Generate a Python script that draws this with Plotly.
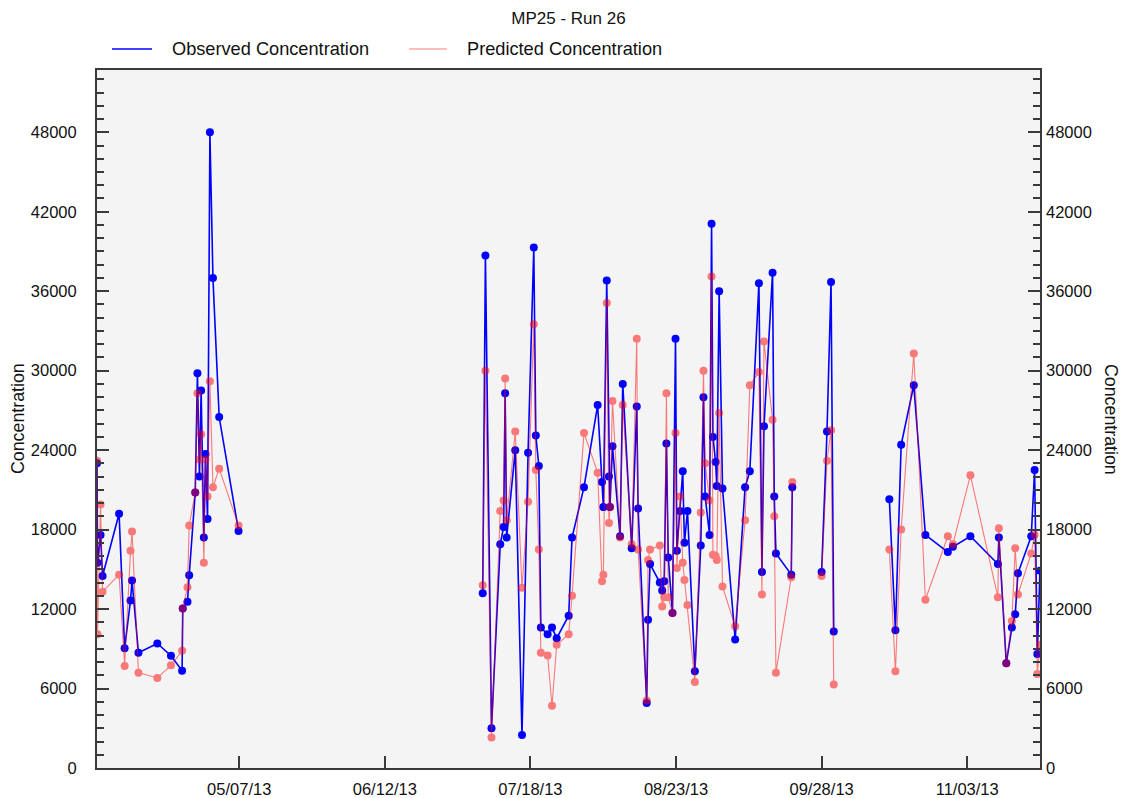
import plotly.graph_objects as go

chart_title = "MP25 - Run 26"
series_names = ["Observed Concentration", "Predicted Concentration"]
series_colors = ["#0000ff", "#ff0000"]
axis_title = "Concentration"

# Sample times; a None value marks a break in sampling (no line drawn across it)
sample_times = [
    "2013-04-01 20:00", "2013-04-01 23:00", "2013-04-02 17:00", "2013-04-03 05:00",
    "2013-04-07 07:00", "2013-04-08 16:00", "2013-04-10 03:00", "2013-04-10 12:00",
    "2013-04-12 02:00", "2013-04-16 18:00", "2013-04-20 03:00", "2013-04-22 21:00",
    "2013-04-23 01:00", "2013-04-24 05:00", "2013-04-24 15:00", "2013-04-26 03:00",
    "2013-04-26 16:00", "2013-04-27 04:00", "2013-04-27 14:00", "2013-04-28 06:00",
    "2013-04-28 16:00", "2013-04-29 04:00", "2013-04-29 18:00", "2013-04-30 12:00",
    "2013-05-02 01:00", "2013-05-06 20:00",
    "2013-06-05 00:00",
    "2013-07-06 05:00", "2013-07-06 21:00", "2013-07-08 09:00", "2013-07-10 13:00",
    "2013-07-11 09:00", "2013-07-11 18:00", "2013-07-12 03:00", "2013-07-14 06:00",
    "2013-07-15 22:00", "2013-07-17 10:00", "2013-07-18 20:00", "2013-07-19 08:00",
    "2013-07-20 02:00", "2013-07-20 14:00", "2013-07-22 06:00", "2013-07-23 08:00",
    "2013-07-24 12:00", "2013-07-27 11:00", "2013-07-28 07:00", "2013-07-31 06:00",
    "2013-08-03 15:00", "2013-08-04 17:00", "2013-08-05 01:00", "2013-08-05 21:00",
    "2013-08-06 10:00", "2013-08-06 16:00", "2013-08-07 07:00", "2013-08-09 04:00",
    "2013-08-09 20:00", "2013-08-12 01:00", "2013-08-13 07:00", "2013-08-13 15:00",
    "2013-08-15 18:00", "2013-08-16 02:00", "2013-08-16 14:00", "2013-08-19 00:00",
    "2013-08-19 14:00", "2013-08-20 02:00", "2013-08-20 15:00", "2013-08-21 02:00",
    "2013-08-22 03:00", "2013-08-22 21:00", "2013-08-23 05:00", "2013-08-24 00:00",
    "2013-08-24 16:00", "2013-08-25 02:00", "2013-08-25 20:00", "2013-08-27 16:00",
    "2013-08-29 03:00", "2013-08-29 19:00", "2013-08-30 05:00", "2013-08-31 07:00",
    "2013-08-31 19:00", "2013-09-01 03:00", "2013-09-01 19:00", "2013-09-02 02:00",
    "2013-09-02 16:00", "2013-09-03 12:00", "2013-09-06 15:00", "2013-09-09 02:00",
    "2013-09-10 06:00", "2013-09-12 12:00", "2013-09-13 06:00", "2013-09-13 18:00",
    "2013-09-15 21:00", "2013-09-16 07:00", "2013-09-16 17:00", "2013-09-20 12:00",
    "2013-09-20 18:00",
    "2013-09-24 00:00",
    "2013-09-28 00:00", "2013-09-29 08:00", "2013-09-30 08:00", "2013-10-01 00:00",
    "2013-10-08 00:00",
    "2013-10-14 18:00", "2013-10-16 06:00", "2013-10-17 16:00", "2013-10-20 19:00",
    "2013-10-23 16:00", "2013-10-29 05:00", "2013-10-30 11:00", "2013-11-03 19:00",
    "2013-11-10 14:00", "2013-11-10 20:00", "2013-11-12 16:00", "2013-11-14 01:00",
    "2013-11-14 21:00", "2013-11-15 13:00", "2013-11-18 20:00", "2013-11-19 16:00",
    "2013-11-20 08:00", "2013-11-21 00:00",
]

observed = [
    23000, 15500, 17600, 14500, 19200, 9050, 12650, 14150,
    8700, 9400, 8480, 7350, 12050, 12550, 14550, 20800,
    29800, 22000, 28500, 17400, 23700, 18800, 48000, 37000,
    26500, 17900,
    None,
    13200, 38700, 3000, 16900, 18200, 28300, 17400, 24000,
    2500, 23800, 39300, 25100, 22800, 10600, 10100, 10600,
    9800, 11500, 17400, 21200, 27400, 21600, 19700, 36800,
    22000, 19700, 24300, 17500, 29000, 16600, 27300, 19600,
    4900, 11200, 15400, 14000, 13400, 14100, 24500, 15900,
    11700, 32400, 16400, 19400, 22400, 17000, 19400, 7300,
    16800, 28000, 20500, 17600, 41100, 25000, 23100, 21300,
    36000, 21100, 9700, 21200, 22400, 36600, 14800, 25800,
    37400, 20500, 16200, 14600, 21200,
    None,
    14800, 25400, 36700, 10300,
    None,
    20300, 10400, 24400, 28900, 17600, 16300, 16700, 17500,
    15400, 17400, 7900, 10600, 11600, 14700, 17500, 22500,
    8600, 14900,
]

predicted = [
    23200, 10100, 19900, 13300, 14600, 7700, 16400, 17850,
    7200, 6800, 7750, 8850, 12050, 13650, 18300, 20800,
    28300, 23300, 25200, 15500, 23300, 20500, 29200, 21200,
    22600, 18300,
    None,
    13800, 30000, 2300, 19400, 20200, 29400, 18700, 25400,
    13600, 20100, 33500, 22500, 16500, 8700, 8500, 4700,
    9300, 10100, 13000, 25300, 22300, 14100, 14600, 35100,
    18500, 19700, 27700, 17400, 27400, 16900, 32400, 16500,
    5100, 15700, 16500, 16800, 12200, 12900, 28300, 12900,
    11700, 25300, 15100, 20500, 15500, 14200, 12300, 6500,
    19300, 30000, 23000, 20200, 37100, 16100, 16000, 15700,
    26800, 13700, 10700, 18700, 28900, 29900, 13100, 32200,
    26300, 19000, 7200, 14400, 21600,
    None,
    14500, 23200, 25500, 6300,
    None,
    16500, 7300, 18000, 31300, 12700, 17500, 16900, 22100,
    12900, 18100, 7900, 11100, 16600, 13100, 16200, 17600,
    7100, 9300,
]

date_ticks = ["2013-05-07", "2013-06-12", "2013-07-18", "2013-08-23", "2013-09-28", "2013-11-03"]
conc_ticks = [0, 6000, 12000, 18000, 24000, 30000, 36000, 42000, 48000]
conc_max = 52700

font_family = "Liberation Sans, Arial, sans-serif"
text_color = "#111111"
frame_color = "#3a3a3a"

fig = go.Figure()

fig.add_trace(go.Scatter(
    x=sample_times, y=observed, name=series_names[0],
    mode="lines+markers",
    line=dict(color=series_colors[0], width=1.6),
    marker=dict(color=series_colors[0], size=8),
    showlegend=False,
))

fig.add_trace(go.Scatter(
    x=sample_times, y=predicted, name=series_names[1],
    mode="lines+markers",
    line=dict(color=series_colors[1], width=1.1),
    marker=dict(color=series_colors[1], size=8),
    opacity=0.5,
    showlegend=False,
))

# Same observations on the secondary axis, kept invisible, so the right-hand scale renders
fig.add_trace(go.Scatter(
    x=sample_times, y=observed, yaxis="y2",
    mode="lines", line=dict(width=0, color="rgba(0,0,0,0)"),
    showlegend=False, hoverinfo="skip",
))

# Legend above the plot: a short line sample followed by the series name
legend_layout = [
    # (line start, line end, text start) in paper x
    ((112 - 97) / 943, (152 - 97) / 943, (170 - 97) / 943),
    ((409 - 97) / 943, (447 - 97) / 943, (465 - 97) / 943),
]
legend_y = (768 - 49) / 698
legend_opacity = [1.0, 0.5]
shapes = []
annotations = []
for name, color, alpha, (x0, x1, xt) in zip(series_names, series_colors, legend_opacity, legend_layout):
    shapes.append(dict(type="line", xref="paper", yref="paper",
                       x0=x0, x1=x1, y0=legend_y, y1=legend_y,
                       line=dict(color=color, width=1.6 if alpha == 1.0 else 1.1),
                       opacity=alpha))
    annotations.append(dict(text=name, xref="paper", yref="paper",
                            x=xt, y=legend_y, xanchor="left", yanchor="middle",
                            showarrow=False,
                            font=dict(family=font_family, size=18.2, color=text_color)))

annotations += [
    dict(text=axis_title, textangle=-90, xref="paper", yref="paper",
         x=(18 - 97) / 943, y=0.5, xanchor="center", yanchor="middle",
         showarrow=False, font=dict(family=font_family, size=17.8, color=text_color)),
    dict(text=axis_title, textangle=90, xref="paper", yref="paper",
         x=(1111 - 97) / 943, y=0.5, xanchor="center", yanchor="middle",
         showarrow=False, font=dict(family=font_family, size=17.8, color=text_color)),
]

tick_font = dict(family=font_family, size=16.5, color=text_color)

fig.update_layout(
    width=1122, height=798,
    margin=dict(l=97, r=82, t=70, b=30, autoexpand=False),
    paper_bgcolor="white",
    plot_bgcolor="#f4f4f4",
    font=dict(family=font_family, color=text_color),
    title=dict(
        text=chart_title, x=0.5, xref="paper", xanchor="center",
        y=1 - 18 / 798, yref="container", yanchor="middle",
        font=dict(family=font_family, size=17, color=text_color),
    ),
    showlegend=False,
    xaxis=dict(
        type="date",
        range=[sample_times[0], sample_times[-1]],
        tickvals=date_ticks,
        tickformat="%m/%d/%y",
        ticks="inside", ticklen=12, tickwidth=2, tickcolor=frame_color,
        showline=True, linecolor=frame_color, linewidth=2, mirror=True,
        showgrid=False, zeroline=False, automargin=False,
        tickfont=tick_font,
        ticklabelstandoff=5,
    ),
    yaxis=dict(
        range=[0, conc_max],
        tickvals=conc_ticks,
        tickformat="d",
        ticks="inside", ticklen=12, tickwidth=2, tickcolor=frame_color,
        minor=dict(ticks="inside", ticklen=7, tickwidth=2, tickcolor=frame_color,
                   dtick=1000, tick0=0, showgrid=False),
        showline=True, linecolor=frame_color, linewidth=2, mirror=True,
        showgrid=False, zeroline=False, automargin=False,
        tickfont=tick_font,
        ticklabelstandoff=15,
    ),
    yaxis2=dict(
        overlaying="y", side="right",
        range=[0, conc_max],
        tickvals=conc_ticks,
        tickformat="d",
        ticks="inside", ticklen=12, tickwidth=2, tickcolor=frame_color,
        minor=dict(ticks="inside", ticklen=7, tickwidth=2, tickcolor=frame_color,
                   dtick=1000, tick0=0, showgrid=False),
        showline=False, showgrid=False, zeroline=False, automargin=False,
        tickfont=tick_font,
        ticklabelstandoff=5,
    ),
    shapes=shapes,
    annotations=annotations,
)

fig.write_html("out.html")
